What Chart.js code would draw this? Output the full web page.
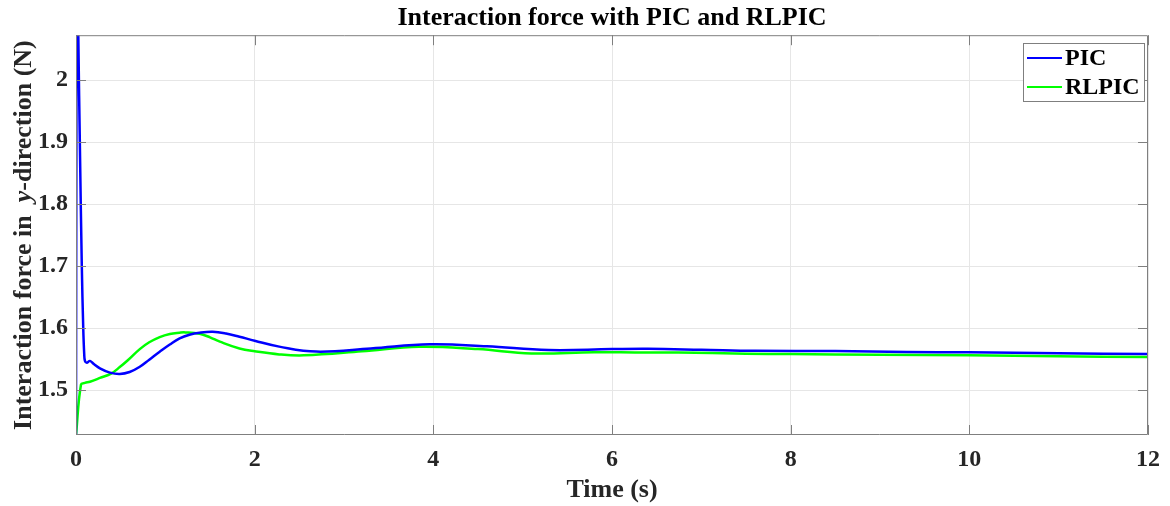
<!DOCTYPE html>
<html>
<head>
<meta charset="utf-8">
<script src="https://cdn.jsdelivr.net/npm/chart.js@4.4.0/dist/chart.umd.min.js"></script>
<style>
  html, body { margin: 0; padding: 0; background: #fff; }
  #wrap { width: 1170px; height: 506px; }
</style>
</head>
<body>
<div id="wrap"><canvas id="myChart" width="1170" height="506"></canvas></div>
<script>
// values
const picTime = [0, 0.005, 0.012, 0.026, 0.045, 0.065, 0.081, 0.092, 0.1, 0.12, 0.156, 0.2, 0.268, 0.38, 0.49, 0.6, 0.714, 0.82, 0.937, 1.05, 1.16, 1.27, 1.383, 1.53, 1.68, 1.83, 2.0, 2.275, 2.69, 3.3, 3.96, 4.6, 5.29, 6.0, 6.4, 7.0, 7.6, 8.5, 9.3, 10, 11, 12];
const picForce = [1.427, 1.95, 2.25, 2.07, 1.88, 1.70, 1.60, 1.558, 1.547, 1.544, 1.547, 1.542, 1.535, 1.528, 1.5258, 1.529, 1.5376, 1.549, 1.5618, 1.5735, 1.5834, 1.5893, 1.5925, 1.594, 1.5912, 1.586, 1.5795, 1.570, 1.562, 1.567, 1.5737, 1.5705, 1.5645, 1.566, 1.5665, 1.565, 1.5632, 1.5628, 1.5615, 1.5608, 1.5594, 1.558];

const rlTime = [0, 0.056, 0.1, 0.156, 0.268, 0.398, 0.49, 0.58, 0.714, 0.82, 0.937, 1.05, 1.16, 1.22, 1.383, 1.5, 1.61, 1.83, 2.0, 2.275, 2.55, 3.2, 3.84, 4.5, 5.1, 5.8, 6.3, 6.74, 7.5, 8, 9, 10, 11, 12];
const rlForce = [1.427, 1.509, 1.5115, 1.5134, 1.5195, 1.527, 1.537, 1.548, 1.566, 1.577, 1.5855, 1.5905, 1.5925, 1.593, 1.5908, 1.585, 1.578, 1.567, 1.5625, 1.5575, 1.556, 1.5625, 1.5699, 1.566, 1.559, 1.561, 1.5605, 1.5605, 1.5585, 1.558, 1.557, 1.556, 1.5545, 1.5532];

const seriesNames = ['PIC', 'RLPIC'];
const seriesColors = ['#0000ff', '#00ff00'];
const xTicks = [0, 2, 4, 6, 8, 10, 12];
const yTicks = [1.5, 1.6, 1.7, 1.8, 1.9, 2];
const yMin = 1.4274, yMax = 2.0726;

const serif = "'Liberation Serif', 'Times New Roman', serif";
const boxColor = '#7f7f7f';

function toPoints(xs, ys) {
    return xs.map((x, i) => ({ x: x, y: ys[i] }));
}

// box, inner tick marks, y title with italic y, legend
const matlabLook = {
    id: 'matlabLook',
    afterDraw(chart) {
        const ctx = chart.ctx;
        const a = chart.chartArea;
        const xs = chart.scales.x, ys = chart.scales.y;
        ctx.save();
        ctx.strokeStyle = boxColor;
        ctx.lineWidth = 1;
        ctx.beginPath();
        ctx.rect(a.left + 0.5, a.top + 0.5, a.right - a.left - 1, a.bottom - a.top - 1);
        ctx.stroke();
        ctx.beginPath();
        xTicks.forEach(v => {
            const px = Math.round(xs.getPixelForValue(v)) + 0.5;
            ctx.moveTo(px, a.bottom); ctx.lineTo(px, a.bottom - 10);
            ctx.moveTo(px, a.top); ctx.lineTo(px, a.top + 10);
        });
        yTicks.forEach(v => {
            const py = Math.round(ys.getPixelForValue(v)) + 0.5;
            ctx.moveTo(a.left, py); ctx.lineTo(a.left + 10, py);
            ctx.moveTo(a.right, py); ctx.lineTo(a.right - 10, py);
        });
        ctx.stroke();

        // y axis title
        const parts = [
            ['Interaction force in  ', 'bold 26px ' + serif],
            ['y', 'italic bold 26px ' + serif],
            ['-direction (N)', 'bold 26px ' + serif]
        ];
        let total = 0;
        parts.forEach(p => { ctx.font = p[1]; total += ctx.measureText(p[0]).width; });
        ctx.translate(24, (a.top + a.bottom) / 2);
        ctx.rotate(-Math.PI / 2);
        ctx.fillStyle = '#262626';
        ctx.textBaseline = 'middle';
        ctx.textAlign = 'left';
        let cx = -total / 2;
        parts.forEach(p => {
            ctx.font = p[1];
            ctx.fillText(p[0], cx, 0);
            cx += ctx.measureText(p[0]).width;
        });
        ctx.restore();

        // legend
        ctx.save();
        const lx = 1023, ly = 43, lw = 121, lh = 58;
        ctx.fillStyle = '#fff';
        ctx.fillRect(lx, ly, lw, lh);
        ctx.strokeStyle = boxColor;
        ctx.lineWidth = 1;
        ctx.strokeRect(lx + 0.5, ly + 0.5, lw, lh);
        ctx.font = 'bold 24px ' + serif;
        ctx.textBaseline = 'middle';
        ctx.fillStyle = '#000';
        chart.data.datasets.forEach((ds, i) => {
            const yy = ly + 15 + i * 29;
            ctx.strokeStyle = ds.borderColor;
            ctx.lineWidth = 2;
            ctx.beginPath();
            ctx.moveTo(lx + 4, yy); ctx.lineTo(lx + 39, yy);
            ctx.stroke();
            ctx.fillText(ds.label, lx + 42, yy + 1);
        });
        ctx.restore();
    }
};

const ctx = document.getElementById('myChart').getContext('2d');
new Chart(ctx, {
    type: 'line',
    data: {
        datasets: [
            {
                label: seriesNames[0],
                data: toPoints(picTime, picForce),
                borderColor: seriesColors[0],
                borderWidth: 2.5,
                pointRadius: 0,
                tension: 0.4,
                fill: false
            },
            {
                label: seriesNames[1],
                data: toPoints(rlTime, rlForce),
                borderColor: seriesColors[1],
                borderWidth: 2.5,
                pointRadius: 0,
                tension: 0.4,
                fill: false
            }
        ]
    },
    options: {
        responsive: false,
        animation: false,
        layout: { padding: { left: 0, right: 18, top: 0, bottom: 0 } },
        plugins: {
            legend: { display: false },
            tooltip: { enabled: false },
            title: {
                display: true,
                text: 'Interaction force with PIC and RLPIC',
                fullSize: false,
                color: '#000',
                font: { family: serif, size: 26, weight: 'bold' },
                padding: { top: 3, bottom: 1 }
            }
        },
        scales: {
            x: {
                type: 'linear',
                min: 0,
                max: 12,
                afterFit: s => { s.height = 71; },
                afterBuildTicks: s => { s.ticks = xTicks.map(v => ({ value: v })); },
                grid: { color: '#e6e6e6', drawTicks: false },
                border: { display: false },
                ticks: {
                    padding: 10,
                    color: '#262626',
                    font: { family: serif, size: 24, weight: 'bold' },
                    maxRotation: 0
                },
                title: {
                    display: true,
                    text: 'Time (s)',
                    color: '#262626',
                    font: { family: serif, size: 26, weight: 'bold' },
                    padding: { top: 0, bottom: 0 }
                }
            },
            y: {
                type: 'linear',
                min: yMin,
                max: yMax,
                afterFit: s => { s.width = 76; },
                afterBuildTicks: s => { s.ticks = yTicks.map(v => ({ value: v })); },
                grid: { color: '#e6e6e6', drawTicks: false },
                border: { display: false },
                ticks: {
                    padding: 8,
                    color: '#262626',
                    font: { family: serif, size: 24, weight: 'bold' },
                    callback: v => (v === 2 ? '2' : v.toFixed(1))
                }
            }
        }
    },
    plugins: [matlabLook]
});
</script>
</body>
</html>
